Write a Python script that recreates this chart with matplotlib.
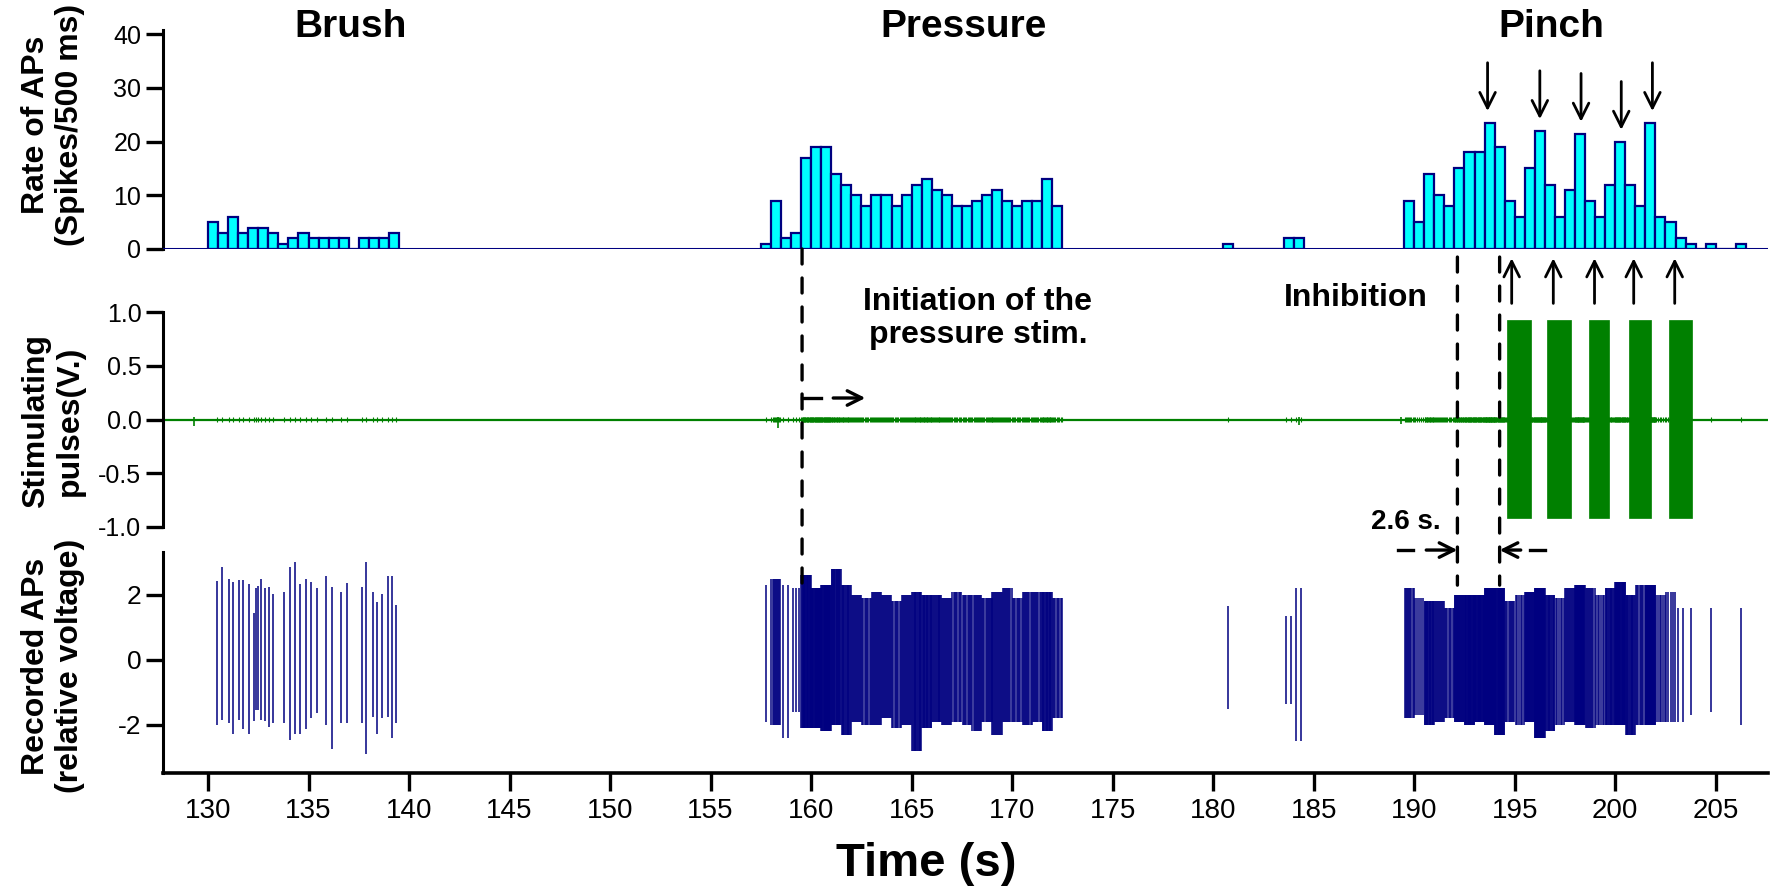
"""Rate histogram, stimulating pulses and recorded APs against time."""
import numpy as np
from matplotlib import pyplot as plt
from matplotlib.patches import ConnectionPatch

plt.rcParams['font.family'] = ['Liberation Sans', 'DejaVu Sans']
plt.rcParams['axes.unicode_minus'] = False

NAVY = '#000080'
CYAN = '#00FFFF'
GREEN = '#008000'
BIN = 0.5  # s, histogram bin

# rate of APs, spikes per 0.5 s bin, three bursts and a few strays
brush_start = 130.0
brush_rate = [5, 3, 6, 3, 4, 4, 3, 1, 2, 3, 2, 2, 2, 2, 0, 2, 2, 2, 3]
pressure_start = 157.5
pressure_rate = [1, 9, 2, 3, 17, 19, 19, 14, 12, 10, 8, 10, 10, 8, 10,
                 12, 13, 11, 10, 8, 8, 9, 10, 11, 9, 8, 9, 9, 13, 8]
stray_start = 180.5
stray_rate = [1, 0, 0, 0, 0, 0, 2, 2]
pinch_start = 189.5
pinch_rate = [9, 5, 14, 10, 8, 15, 18, 18, 23.5, 19, 9, 6, 15, 22, 12, 6,
              11, 21.5, 9, 6, 12, 20, 12, 8, 23.5, 6, 5, 2, 1, 0, 1, 0, 0, 1]

# recorded APs during brush, one spike at a time
brush_t = [130.45, 130.68, 131.02, 131.22, 131.56, 131.76, 132.05, 132.28,
           132.39, 132.50, 132.62, 132.85, 133.02, 133.25, 133.76, 134.10,
           134.33, 134.56, 134.85, 135.10, 135.42, 135.85, 136.16, 136.62,
           136.90, 137.64, 137.87, 138.21, 138.42, 138.64, 138.96, 139.13,
           139.36]
brush_up = [2.44, 2.86, 2.5, 2.4, 2.47, 2.45, 2.32, 1.44, 2.2, 2.27, 2.5,
            2.2, 2.24, 2.04, 2.1, 2.86, 3.0, 2.32, 2.5, 2.4, 2.2, 2.58, 2.24,
            2.1, 2.36, 2.24, 3.0, 2.1, 1.78, 2.04, 2.58, 2.58, 1.7]
brush_dn = [-2.0, -1.86, -1.93, -2.27, -1.84, -2.13, -2.27, -1.88, -1.55,
            -1.55, -1.86, -1.88, -2.06, -1.93, -1.93, -2.47, -2.27, -2.27,
            -2.14, -1.8, -1.63, -2.0, -2.73, -1.93, -1.93, -1.93, -2.89,
            -1.75, -2.27, -1.8, -1.75, -2.4, -1.93]

# dense bursts: spike extremes per 0.5 s bin
pressure_up = [2.3, 2.5, 2.3, 2.2, 2.6, 2.2, 2.3, 2.8, 2.3, 2.0, 1.9, 2.1,
               2.0, 1.8, 2.0, 2.1, 2.0, 2.0, 1.9, 2.1, 2.0, 2.0, 1.9, 2.1,
               2.2, 1.9, 2.1, 2.1, 2.1, 1.9]
pressure_dn = [-1.9, -2.0, -2.4, -1.6, -2.1, -2.1, -2.2, -2.0, -2.3, -1.9,
               -2.0, -2.0, -1.8, -2.1, -2.0, -2.8, -2.1, -1.9, -2.0, -1.9,
               -2.0, -2.2, -1.9, -2.3, -1.9, -1.9, -2.0, -1.9, -2.2, -1.8]
stray_up = [1.65, 0, 0, 0, 0, 0, 1.35, 2.2]
stray_dn = [-1.5, 0, 0, 0, 0, 0, -1.35, -2.5]
pinch_up = [2.2, 1.9, 1.8, 1.8, 1.6, 2.0, 2.0, 2.0, 2.2, 2.2, 1.8, 2.0,
            2.1, 2.2, 2.0, 1.9, 2.2, 2.3, 2.2, 2.0, 2.2, 2.4, 2.0, 2.3,
            2.3, 2.0, 2.1, 1.6, 1.6, 0, 1.6, 0, 0, 1.6]
pinch_dn = [-1.8, -1.7, -2.0, -1.9, -1.8, -1.9, -2.0, -1.9, -2.0, -2.3,
            -1.9, -2.0, -1.9, -2.4, -2.2, -2.0, -1.9, -2.0, -2.1, -2.0,
            -2.0, -2.0, -2.3, -2.0, -2.0, -1.9, -1.9, -1.9, -1.7, 0, -1.6,
            0, 0, -2.0]

# stimulating pulse trains (V.)
train_on = [194.6, 196.6, 198.7, 200.7, 202.7]
train_off = [195.8, 197.8, 199.7, 201.8, 203.8]
train_high = 0.93
train_low = -0.92
blip_t = [129.3, 158.35, 184.25, 189.35]
blip_v = [-0.06, -0.08, -0.05, -0.04]

# arrows: peaks of the rate and starts of each train
peak_t = [193.65, 196.25, 198.3, 200.3, 201.85]
peak_h = [23.5, 22, 21.5, 20, 23.5]
train_arrow_t = [194.85, 196.92, 198.97, 200.92, 202.96]
press_onset = 159.55
inhib_from = 192.15
inhib_to = 194.25

xticks = list(range(130, 206, 5))
xlim = (127.76, 207.6)


def bin_spikes(start, counts, up, dn):
    t, hi, lo = [], [], []
    for i, (n, u, d) in enumerate(zip(counts, up, dn)):
        n = int(round(n))
        for k in range(n):
            t.append(start + BIN * i + BIN * (k + 0.5) / n)
            hi.append(u)
            lo.append(d)
    return t, hi, lo


def style_left(ax, labelsize):
    for s in ('top', 'right', 'bottom'):
        ax.spines[s].set_visible(False)
    ax.spines['left'].set_linewidth(2.2)
    ax.tick_params(axis='y', direction='out', length=12, width=2.4,
                   labelsize=labelsize)
    ax.set_xlim(*xlim)


W, H = 1771.0, 893.0
fig = plt.figure(figsize=(17.71, 8.93), dpi=100)
ax_top = fig.add_axes([163 / W, 1 - 249 / H, 1605 / W, 219 / H])
ax_mid = fig.add_axes([163 / W, 1 - 527 / H, 1605 / W, 215 / H])
ax_bot = fig.add_axes([163 / W, 1 - 773 / H, 1605 / W, 221 / H])

# --- rate histogram
for start, rate in ((brush_start, brush_rate), (pressure_start, pressure_rate),
                    (stray_start, stray_rate), (pinch_start, pinch_rate)):
    x = [start + BIN * i for i in range(len(rate))]
    ax_top.bar(x, rate, width=BIN, align='edge', color=CYAN,
               edgecolor=NAVY, linewidth=1.6, zorder=2)
ax_top.axhline(0, color=NAVY, lw=2.2, zorder=3)
ax_top.set_ylim(0, 40.8)
ax_top.set_yticks([0, 10, 20, 30, 40])
ax_top.set_xticks([])
style_left(ax_top, 18)
for t, h in zip(peak_t, peak_h):
    ax_top.annotate('', xy=(t, h + 2.2), xytext=(t, h + 11.2),
                    arrowprops=dict(arrowstyle='->', lw=2.0, color='k',
                                    mutation_scale=28, shrinkA=0, shrinkB=0))
for name, t in (('Brush', 137.1), ('Pressure', 167.6), ('Pinch', 196.8)):
    ax_top.text(t, 41.3, name, ha='center', va='center', fontsize=28,
                fontweight='bold', clip_on=False)

# --- spike times for the lower panels
spk_t, spk_hi, spk_lo = list(brush_t), list(brush_up), list(brush_dn)
for start, rate, up, dn in ((pressure_start, pressure_rate, pressure_up, pressure_dn),
                            (stray_start, stray_rate, stray_up, stray_dn),
                            (pinch_start, pinch_rate, pinch_up, pinch_dn)):
    t, hi, lo = bin_spikes(start, rate, up, dn)
    spk_t += t
    spk_hi += hi
    spk_lo += lo

# --- stimulating pulses
ax_mid.axhline(0, color=GREEN, lw=1.6)
ax_mid.vlines(spk_t, -0.025, 0.025, color=GREEN, lw=0.8)
ax_mid.vlines(blip_t, blip_v, 0.02, color=GREEN, lw=1.2)
widths = [b - a for a, b in zip(train_on, train_off)]
ax_mid.bar(train_on, train_high - train_low, width=widths, bottom=train_low,
           align='edge', color=GREEN, edgecolor=GREEN, linewidth=0.5)
ax_mid.set_ylim(-1.0, 1.0)
ax_mid.set_yticks([-1.0, -0.5, 0.0, 0.5, 1.0])
ax_mid.set_yticklabels(['-1.0', '-0.5', '0.0', '0.5', '1.0'])
ax_mid.set_xticks([])
style_left(ax_mid, 18)
for t in train_arrow_t:
    ax_mid.annotate('', xy=(t, 1.5), xytext=(t, 1.08), annotation_clip=False,
                    arrowprops=dict(arrowstyle='->', lw=2.0, color='k',
                                    mutation_scale=28, shrinkA=0, shrinkB=0))
ax_mid.text(168.3, 0.94, 'Initiation of the\npressure stim.', ha='center',
            va='center', fontsize=23, fontweight='bold', linespacing=1.15)
ax_mid.text(187.1, 1.13, 'Inhibition', ha='center', va='center',
            fontsize=23, fontweight='bold', clip_on=False)
ax_mid.plot([press_onset, 160.5], [0.2, 0.2], color='k', lw=2.4)
ax_mid.annotate('', xy=(162.7, 0.2), xytext=(161.1, 0.2),
                arrowprops=dict(arrowstyle='->', lw=2.4, color='k',
                                mutation_scale=26, shrinkA=0, shrinkB=0))

# --- recorded APs
ax_bot.vlines(spk_t, spk_lo, spk_hi, color=NAVY, lw=1.1)
ax_bot.set_ylim(-3.48, 3.32)
ax_bot.set_yticks([-2, 0, 2])
style_left(ax_bot, 19)
ax_bot.spines['bottom'].set_visible(True)
ax_bot.spines['bottom'].set_linewidth(2.6)
ax_bot.set_xticks(xticks)
ax_bot.tick_params(axis='x', direction='out', length=13, width=2.4,
                   labelsize=20, pad=5)
ax_bot.text(189.6, 4.25, '2.6 s.', ha='center', va='center', fontsize=20,
            fontweight='bold', clip_on=False)
ax_bot.plot([189.2, 189.95], [3.38, 3.38], color='k', lw=2.4, clip_on=False)
ax_bot.annotate('', xy=(inhib_from, 3.38), xytext=(190.6, 3.38),
                annotation_clip=False,
                arrowprops=dict(arrowstyle='->', lw=2.4, color='k',
                                mutation_scale=26, shrinkA=0, shrinkB=0))
ax_bot.annotate('', xy=(inhib_to, 3.38), xytext=(195.3, 3.38),
                annotation_clip=False,
                arrowprops=dict(arrowstyle='->', lw=2.4, color='k',
                                mutation_scale=26, shrinkA=0, shrinkB=0))
ax_bot.plot([195.75, 196.5], [3.38, 3.38], color='k', lw=2.4, clip_on=False)

# dashed markers running across the panels
dash = (0, (4.5, 4.2))
for t, y0, y1 in ((press_onset, 0.0, 2.2), (inhib_from, -1.5, 2.3),
                  (inhib_to, -1.5, 2.3)):
    con = ConnectionPatch(xyA=(t, y0), coordsA='data', axesA=ax_top,
                          xyB=(t, y1), coordsB='data', axesB=ax_bot,
                          color='k', lw=2.4, linestyle=dash)
    con.set_annotation_clip(False)
    fig.add_artist(con)

# panel labels
for y, txt in ((125, 'Rate of APs\n(Spikes/500 ms)'),
               (421, 'Stimulating\npulses(V.)'),
               (666, 'Recorded APs\n(relative voltage)')):
    fig.text(53 / W, 1 - y / H, txt, rotation=90, ha='center', va='center',
             multialignment='center', fontsize=23, fontweight='bold')
fig.text(926 / W, 1 - 864 / H, 'Time (s)', ha='center', va='center',
         fontsize=34, fontweight='bold')

fig.savefig('out.png', dpi=100)
